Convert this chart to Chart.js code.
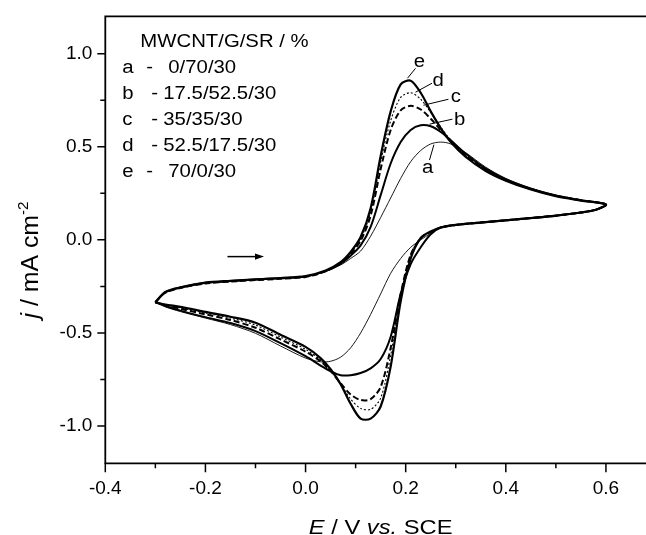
<!DOCTYPE html>
<html><head><meta charset="utf-8">
<script src="https://cdn.jsdelivr.net/npm/chart.js@4.4.1/dist/chart.umd.min.js"></script>
<style>html,body{margin:0;padding:0;background:#fff;overflow:hidden}canvas{display:block}</style>
</head><body>
<canvas id="c" width="646" height="535"></canvas>
<script>
// ---------- data ----------
// potential of each sample along the cyclic scan: forward -0.3 -> 0.6 V, then back to -0.3 V
const potential = [
  -0.30,-0.28,-0.25,-0.20,-0.15,-0.10,-0.05,0.00,0.04,0.07,0.09,0.11,0.13,0.15,0.17,0.19,0.21,0.23,0.25,0.27,0.29,0.32,0.36,0.40,0.45,0.50,0.55,0.60,
  0.58,0.55,0.50,0.45,0.40,0.35,0.30,0.27,0.25,0.23,0.21,0.19,0.17,0.15,0.13,0.11,0.09,0.07,0.05,0.03,0.00,-0.05,-0.10,-0.15,-0.20,-0.25,-0.28,-0.30
];
// current density j / mA cm-2 for each composite
const jA = [
  -0.335,-0.281,-0.256,-0.231,-0.221,-0.213,-0.206,-0.198,-0.170,-0.135,-0.100,-0.060,0.020,0.120,0.225,0.330,0.420,0.480,0.515,0.525,0.515,0.468,0.390,0.330,0.278,0.240,0.214,0.190,
  0.162,0.147,0.130,0.117,0.105,0.093,0.080,0.066,0.035,0.000,-0.040,-0.100,-0.180,-0.290,-0.400,-0.500,-0.580,-0.630,-0.652,-0.655,-0.635,-0.570,-0.502,-0.455,-0.420,-0.385,-0.360,-0.335
];
const jB = [
  -0.335,-0.281,-0.256,-0.231,-0.221,-0.213,-0.206,-0.197,-0.168,-0.128,-0.085,-0.030,0.070,0.240,0.410,0.525,0.590,0.615,0.610,0.580,0.535,0.462,0.382,0.325,0.275,0.238,0.213,0.190,
  0.162,0.147,0.130,0.117,0.105,0.093,0.080,0.066,0.030,-0.040,-0.130,-0.290,-0.520,-0.640,-0.690,-0.715,-0.727,-0.727,-0.705,-0.675,-0.625,-0.555,-0.490,-0.447,-0.415,-0.380,-0.355,-0.335
];
const jC = [
  -0.335,-0.284,-0.259,-0.234,-0.224,-0.216,-0.209,-0.199,-0.169,-0.125,-0.075,-0.005,0.130,0.380,0.590,0.695,0.720,0.700,0.650,0.590,0.530,0.452,0.376,0.322,0.273,0.237,0.213,0.190,
  0.162,0.147,0.130,0.117,0.105,0.093,0.080,0.066,0.043,0.008,-0.080,-0.290,-0.580,-0.790,-0.855,-0.860,-0.830,-0.770,-0.705,-0.652,-0.600,-0.535,-0.472,-0.430,-0.400,-0.370,-0.351,-0.335
];
const jD = [
  -0.335,-0.282,-0.257,-0.232,-0.222,-0.214,-0.207,-0.197,-0.167,-0.122,-0.070,0.005,0.150,0.420,0.640,0.765,0.790,0.755,0.685,0.605,0.535,0.452,0.375,0.321,0.272,0.236,0.212,0.190,
  0.162,0.147,0.130,0.117,0.105,0.093,0.080,0.066,0.045,0.012,-0.080,-0.300,-0.620,-0.850,-0.910,-0.905,-0.855,-0.775,-0.700,-0.645,-0.588,-0.522,-0.458,-0.420,-0.393,-0.365,-0.349,-0.335
];
const jE = [
  -0.335,-0.280,-0.255,-0.230,-0.220,-0.212,-0.205,-0.195,-0.165,-0.120,-0.065,0.015,0.170,0.450,0.690,0.835,0.855,0.790,0.690,0.600,0.525,0.445,0.370,0.318,0.270,0.234,0.211,0.190,
  0.162,0.147,0.130,0.117,0.105,0.093,0.080,0.066,0.045,0.010,-0.100,-0.330,-0.680,-0.895,-0.960,-0.960,-0.880,-0.775,-0.695,-0.635,-0.575,-0.510,-0.445,-0.413,-0.387,-0.360,-0.347,-0.335
];
const seriesKeys = ['a','b','c','d','e'];
const seriesRatios = ['0/70/30','17.5/52.5/30','35/35/30','52.5/17.5/30','70/0/30'];
const legendTitle = 'MWCNT/G/SR / %';
// curve label anchors (E, j) and leader lines (from -> to)
const labelE = [0.244, 0.308, 0.300, 0.265, 0.2275];
const labelJ = [0.393, 0.648, 0.770, 0.857, 0.959];
const leaderFromE = [0.2475, 0.2933, 0.2854, 0.2525, 0.2196];
const leaderFromJ = [0.4285, 0.648, 0.755, 0.841, 0.921];
const leaderToE = [0.2564, 0.2475, 0.2355, 0.2196, 0.2036];
const leaderToJ = [0.511, 0.621, 0.723, 0.793, 0.868];
// scan-direction arrow
const arrowE = [-0.156, -0.083];
const arrowJ = [-0.09, -0.09];
// axes
const xMajorTicks = [-0.4,-0.2,0.0,0.2,0.4,0.6];
const xMinorTicks = [-0.3,-0.1,0.1,0.3,0.5];
const yMajorTicks = [-1.0,-0.5,0.0,0.5,1.0];
const yMinorTicks = [-0.75,-0.25,0.25,0.75];
const xRange = [-0.4, 0.68];
const yRange = [-1.2, 1.2];

// ---------- chart ----------
const FONT = "'Liberation Sans', Arial, Helvetica, sans-serif";
const SX = 1.13; // horizontal stretch of text in the reference

function toPts(js){ return potential.map((e,i)=>({x:e, y:js[i]})); }

function drawRuns(ctx, runs, x, y, size, sx, align){
  ctx.save();
  ctx.textBaseline = 'alphabetic';
  ctx.textAlign = 'left';
  let w = 0;
  runs.forEach(r=>{ ctx.font = (r.it?'italic ':'') + (r.sup?Math.round(size*0.62):size) + 'px ' + FONT; r.w = ctx.measureText(r.t).width; w += r.w; });
  ctx.translate(x, y);
  ctx.scale(sx, 1);
  let cx = align==='center' ? -w/2 : 0;
  runs.forEach(r=>{
    ctx.font = (r.it?'italic ':'') + (r.sup?Math.round(size*0.62):size) + 'px ' + FONT;
    ctx.fillText(r.t, cx, r.sup ? -size*0.42 : 0);
    cx += r.w;
  });
  ctx.restore();
}

const overlay = {
  id:'overlay',
  afterDraw(chart){
    const {ctx, chartArea:ca, scales:{x, y}} = chart;
    ctx.save();
    ctx.strokeStyle = '#000'; ctx.fillStyle = '#000';
    ctx.lineWidth = 1.8; ctx.lineCap = 'butt';
    // frame (top, left, bottom)
    ctx.beginPath();
    ctx.moveTo(ca.left, ca.top); ctx.lineTo(ca.right+2, ca.top);
    ctx.moveTo(ca.left, ca.top-0.9); ctx.lineTo(ca.left, ca.bottom);
    ctx.moveTo(ca.left-0.9, ca.bottom); ctx.lineTo(ca.right+2, ca.bottom);
    ctx.stroke();
    // ticks
    ctx.lineWidth = 1.5;
    ctx.beginPath();
    xMajorTicks.forEach(v=>{ const p = x.getPixelForValue(v); ctx.moveTo(p, ca.bottom); ctx.lineTo(p, ca.bottom+9); });
    xMinorTicks.forEach(v=>{ const p = x.getPixelForValue(v); ctx.moveTo(p, ca.bottom); ctx.lineTo(p, ca.bottom+5); });
    yMajorTicks.forEach(v=>{ const p = y.getPixelForValue(v); ctx.moveTo(ca.left, p); ctx.lineTo(ca.left-8, p); });
    yMinorTicks.forEach(v=>{ const p = y.getPixelForValue(v); ctx.moveTo(ca.left, p); ctx.lineTo(ca.left-5, p); });
    ctx.stroke();

    // legend block
    const lx = ca.left + 35, ly = ca.top + 31;
    drawRuns(ctx, [{t:legendTitle}], lx, ly, 18, SX, 'left');
    seriesKeys.forEach((k,i)=>{
      const by = ly + 26*(i+1);
      const wide = (i===0 || i===4);
      drawRuns(ctx, [{t:k}], ca.left+17, by, 18, SX, 'left');
      drawRuns(ctx, [{t:'-'}], ca.left + (wide?41:46), by, 18, SX, 'left');
      drawRuns(ctx, [{t:seriesRatios[i]}], ca.left + (wide?63:58), by, 18, SX, 'left');
    });

    // curve labels with leader lines
    ctx.lineWidth = 1;
    seriesKeys.forEach((k,i)=>{
      ctx.beginPath();
      ctx.moveTo(x.getPixelForValue(leaderFromE[i]), y.getPixelForValue(leaderFromJ[i]));
      ctx.lineTo(x.getPixelForValue(leaderToE[i]), y.getPixelForValue(leaderToJ[i]));
      ctx.stroke();
      drawRuns(ctx, [{t:k}], x.getPixelForValue(labelE[i]), y.getPixelForValue(labelJ[i]) + 6, 18, SX, 'center');
    });

    // arrow
    const ax0 = x.getPixelForValue(arrowE[0]), ay0 = y.getPixelForValue(arrowJ[0]);
    const ax1 = x.getPixelForValue(arrowE[1]), ay1 = y.getPixelForValue(arrowJ[1]);
    ctx.lineWidth = 1.5;
    ctx.beginPath(); ctx.moveTo(ax0, ay0); ctx.lineTo(ax1-6, ay1); ctx.stroke();
    ctx.beginPath(); ctx.moveTo(ax1, ay1); ctx.lineTo(ax1-9, ay1-3.2); ctx.lineTo(ax1-9, ay1+3.2); ctx.closePath(); ctx.fill();

    // axis titles
    drawRuns(ctx, [{t:'E',it:true},{t:' / V '},{t:'vs.',it:true},{t:' SCE'}], (ca.left+ca.right)/2 + 5, chart.height - 1, 21, SX, 'center');
    ctx.save();
    ctx.translate(38, 260);
    ctx.rotate(-Math.PI/2);
    drawRuns(ctx, [{t:'j',it:true},{t:' / mA cm'},{t:'-2',sup:true}], 0, 0, 23, 1.08, 'center');
    ctx.restore();
    ctx.restore();
  }
};

const styles = [
  {w:0.9, dash:[]},
  {w:2.0, dash:[]},
  {w:2.0, dash:[6,3]},
  {w:1.1, dash:[2,2]},
  {w:2.2, dash:[]}
];
const allJ = [jA, jB, jC, jD, jE];

new Chart(document.getElementById('c'), {
  type:'scatter',
  data:{ datasets: allJ.map((js,i)=>({
    label: seriesKeys[i] + ' - ' + seriesRatios[i],
    data: toPts(js),
    showLine:true, pointRadius:0, pointHoverRadius:0,
    borderColor:'#000', backgroundColor:'#000',
    borderWidth: styles[i].w, borderDash: styles[i].dash,
    tension:0.3, fill:false
  })) },
  options:{
    responsive:false, devicePixelRatio:1, animation:false,
    layout:{ padding:{top:16, right:0, bottom:0, left:0} },
    plugins:{ legend:{display:false}, tooltip:{enabled:false} },
    scales:{
      x:{ type:'linear', min:xRange[0], max:xRange[1], bounds:'data',
          afterBuildTicks:s=>{ s.ticks = xMajorTicks.map(v=>({value:v})); },
          afterFit:s=>{ s.height = 71.7; },
          ticks:{ callback:v=>Number(v).toFixed(1), font:{family:FONT, size:19}, color:'#000', padding:5, maxRotation:0, autoSkip:false },
          grid:{ display:true, drawOnChartArea:false, drawTicks:true, tickLength:9, color:'rgba(0,0,0,0)' },
          border:{ display:false } },
      y:{ type:'linear', min:yRange[0], max:yRange[1], bounds:'data',
          afterBuildTicks:s=>{ s.ticks = yMajorTicks.map(v=>({value:v})); },
          afterFit:s=>{ s.width = 105.3; },
          ticks:{ callback:v=>Number(v).toFixed(1), font:{family:FONT, size:19}, color:'#000', padding:5, autoSkip:false },
          grid:{ display:true, drawOnChartArea:false, drawTicks:true, tickLength:8, color:'rgba(0,0,0,0)' },
          border:{ display:false } }
    }
  },
  plugins:[overlay]
});
</script>
</body></html>
